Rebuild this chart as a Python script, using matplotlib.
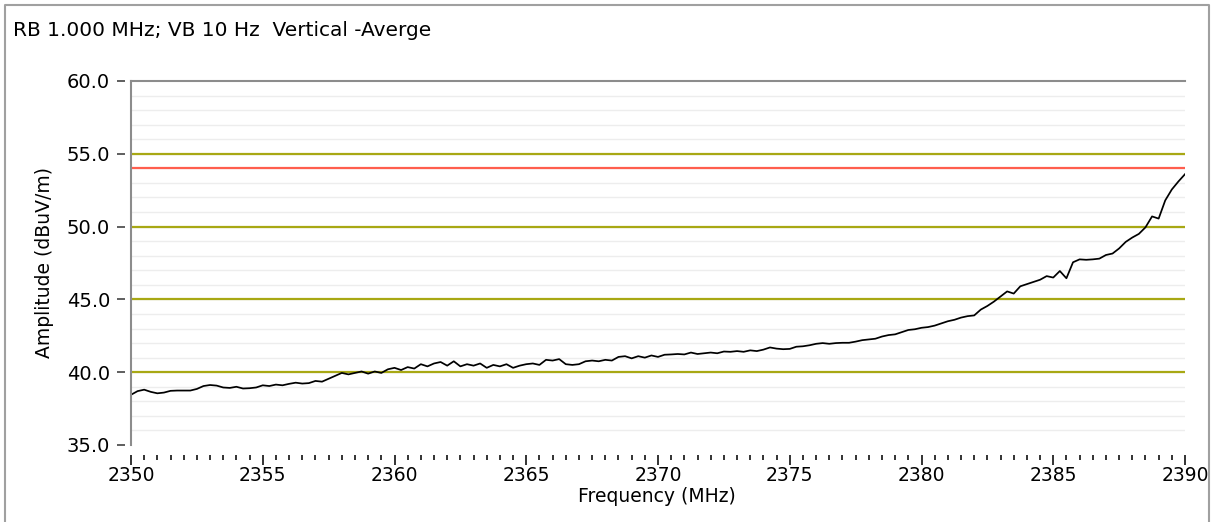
import matplotlib.pyplot as plt
from matplotlib.lines import Line2D
from matplotlib.ticker import MultipleLocator, FormatStrFormatter

freq = [2350 + 0.25 * i for i in range(161)]
amplitude = [
    38.45, 38.70, 38.80, 38.65, 38.55, 38.60, 38.72, 38.74, 38.74, 38.74,
    38.85, 39.05, 39.12, 39.08, 38.95, 38.92, 39.00, 38.88, 38.90, 38.95,
    39.10, 39.05, 39.15, 39.10, 39.20, 39.28, 39.22, 39.25, 39.40, 39.35,
    39.55, 39.75, 39.95, 39.85, 39.95, 40.05, 39.90, 40.05, 39.95, 40.20,
    40.30, 40.15, 40.35, 40.25, 40.55, 40.40, 40.60, 40.70, 40.45, 40.75,
    40.40, 40.55, 40.45, 40.60, 40.30, 40.50, 40.40, 40.55, 40.30, 40.45,
    40.55, 40.60, 40.50, 40.85, 40.80, 40.90, 40.55, 40.50, 40.55, 40.75,
    40.80, 40.75, 40.85, 40.80, 41.05, 41.10, 40.95, 41.10, 41.00, 41.15,
    41.05, 41.20, 41.22, 41.25, 41.22, 41.35, 41.25, 41.30, 41.35, 41.30,
    41.42, 41.40, 41.45, 41.40, 41.50, 41.45, 41.55, 41.70, 41.62, 41.58,
    41.60, 41.75, 41.78, 41.85, 41.95, 42.00, 41.95, 42.00, 42.02, 42.02,
    42.10, 42.20, 42.25, 42.30, 42.45, 42.55, 42.60, 42.75, 42.90, 42.95,
    43.05, 43.10, 43.20, 43.35, 43.50, 43.60, 43.75, 43.85, 43.90, 44.30,
    44.55, 44.85, 45.20, 45.55, 45.40, 45.90, 46.05, 46.20, 46.35, 46.60,
    46.50, 46.95, 46.45, 47.55, 47.75, 47.72, 47.75, 47.80, 48.05, 48.15,
    48.50, 48.95, 49.25, 49.50, 49.95, 50.70, 50.55, 51.80, 52.55, 53.10,
    53.60,
]

ref_levels = [40, 45, 50, 55]   # olive reference lines
limit_level = 54.0               # red limit line
title = "RB 1.000 MHz; VB 10 Hz  Vertical -Averge"

W, H = 1214, 522
fig = plt.figure(figsize=(W / 100, H / 100), dpi=100)
ax = fig.add_axes([131 / W, 1 - 445 / H, (1185 - 131) / W, (445 - 81) / H])

# light minor grid every 1 dB
for v in range(36, 60):
    ax.axhline(v, color="#ededed", lw=1.0, zorder=0)
for v in ref_levels:
    ax.axhline(v, color="#a8a814", lw=1.6, zorder=2)
ax.axhline(limit_level, color="#ff5e4e", lw=1.6, zorder=2)

ax.plot(freq, amplitude, color="black", lw=1.25, zorder=3)

ax.set_xlim(2350, 2390)
ax.set_ylim(35, 60)

ax.xaxis.set_major_locator(MultipleLocator(5))
ax.xaxis.set_minor_locator(MultipleLocator(0.5))
ax.yaxis.set_major_locator(MultipleLocator(5))
ax.yaxis.set_major_formatter(FormatStrFormatter("%.1f"))

for s in ["right", "bottom", "left"]:
    ax.spines[s].set_visible(False)
ax.spines["top"].set_color("#8c8c8c")
ax.spines["top"].set_linewidth(1.5)
ax.spines["bottom"].set_position(("outward", 7))
ax.spines["left"].set_position(("outward", 4))
ax.plot([2350, 2350], [35, 60], color="#8c8c8c", lw=1.5, clip_on=False, zorder=4)

ax.tick_params(axis="x", which="major", length=7, width=1.4, color="#333333",
               pad=1, labelsize=13.5)
ax.tick_params(axis="x", which="minor", length=3.5, width=1.4, color="#333333")
ax.tick_params(axis="y", which="major", length=6, width=1.1, color="#333333",
               pad=5, labelsize=14)
ax.tick_params(axis="y", which="minor", left=False)

fig.text(657 / W, 1 - 497 / H, "Frequency (MHz)", ha="center", va="center", fontsize=13.5)
fig.text(45 / W, 1 - 263 / H, "Amplitude (dBuV/m)", ha="center", va="center",
         rotation=90, fontsize=13.5)
fig.text(13 / W, 1 - 30 / H, title, ha="left", va="center", fontsize=14.5)

# outer panel frame (left, top, right)
px = lambda x, y: (x / W, 1 - y / H)
xs, ys = zip(px(5, 530), px(5, 5), px(1209, 5), px(1209, 530))
fig.add_artist(Line2D(xs, ys, color="#a0a0a0", lw=1.5))

fig.savefig("out.png", dpi=100)
